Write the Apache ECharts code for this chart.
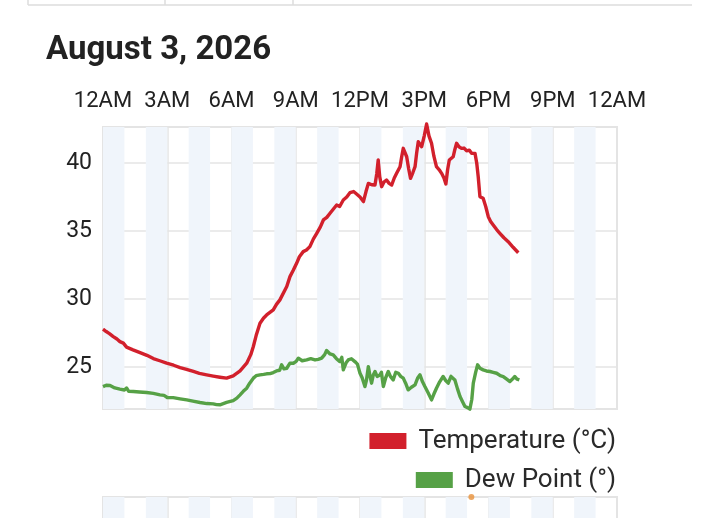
<!DOCTYPE html>
<html>
<head>
<meta charset="utf-8">
<script src="https://cdn.jsdelivr.net/npm/echarts/dist/echarts.min.js"></script>
<style>
html,body{margin:0;padding:0;background:#fff;overflow:hidden;}
#chart{width:719px;height:518px;}
</style>
</head>
<body>
<div id="chart"></div>
<script>
// ---- data ----
const titleText = 'August 3, 2026';
const xTickHours = [0, 3, 6, 9, 12, 15, 18, 21, 24];
const xTickLabels = ['12AM', '3AM', '6AM', '9AM', '12PM', '3PM', '6PM', '9PM', '12AM'];
const yTickValues = [25, 30, 35, 40];
const seriesNames = ['Temperature (°C)', 'Dew Point (°)'];

const tempHours = [0.00,0.15,0.30,0.48,0.65,0.79,0.95,1.10,1.40,1.73,2.05,2.35,2.65,2.97,3.30,3.60,3.90,4.22,4.50,4.84,5.15,5.46,5.77,6.08,6.40,6.71,6.90,7.02,7.15,7.33,7.50,7.64,7.95,8.10,8.26,8.58,8.73,8.89,9.04,9.17,9.35,9.50,9.66,9.82,9.98,10.15,10.29,10.45,10.60,10.75,10.91,11.05,11.22,11.38,11.53,11.70,11.84,12.00,12.16,12.28,12.39,12.55,12.70,12.78,12.85,12.92,13.01,13.12,13.24,13.36,13.48,13.60,13.71,13.87,13.95,14.02,14.18,14.27,14.36,14.47,14.57,14.65,14.72,14.88,15.00,15.11,15.22,15.34,15.45,15.57,15.70,15.81,15.92,16.01,16.09,16.17,16.35,16.43,16.51,16.62,16.74,16.85,16.98,17.10,17.21,17.37,17.45,17.52,17.60,17.75,17.87,17.99,18.10,18.22,18.38,18.53,18.72,18.92,19.15,19.39];
const tempValues = [27.77,27.60,27.45,27.23,27.05,26.86,26.75,26.45,26.25,26.05,25.85,25.61,25.45,25.27,25.12,24.95,24.82,24.66,24.52,24.41,24.32,24.24,24.17,24.34,24.71,25.27,25.90,26.50,27.30,28.21,28.60,28.82,29.19,29.60,29.93,30.91,31.64,32.13,32.62,33.10,33.48,33.60,33.85,34.40,34.83,35.30,35.81,36.00,36.30,36.60,36.91,36.80,37.28,37.50,37.82,37.90,37.72,37.50,37.16,37.90,38.50,38.40,38.38,39.20,40.22,39.00,38.26,38.60,38.75,38.50,38.38,38.90,39.24,39.73,40.50,41.08,40.46,39.60,38.87,39.30,39.73,40.80,41.57,41.20,42.00,42.87,42.00,41.45,40.50,39.73,39.50,39.24,38.90,38.46,39.50,40.22,40.46,41.00,41.45,41.20,41.08,41.10,40.90,40.95,40.71,40.71,40.00,38.99,37.52,37.40,36.80,36.05,35.70,35.44,35.10,34.83,34.50,34.21,33.80,33.40];

const dewHours = [0.00,0.15,0.33,0.55,0.79,1.00,1.10,1.20,1.42,1.70,2.04,2.35,2.66,2.85,3.00,3.28,3.60,3.91,4.20,4.53,4.85,5.15,5.30,5.46,5.77,6.08,6.25,6.40,6.55,6.71,6.85,7.02,7.15,7.33,7.50,7.64,7.80,7.95,8.10,8.25,8.34,8.45,8.58,8.73,8.89,9.02,9.12,9.30,9.51,9.70,9.90,10.05,10.21,10.35,10.44,10.60,10.75,10.90,11.06,11.15,11.22,11.35,11.45,11.60,11.76,11.88,12.00,12.10,12.23,12.30,12.39,12.47,12.54,12.62,12.70,12.80,12.93,13.00,13.09,13.20,13.32,13.42,13.55,13.67,13.79,13.90,14.02,14.13,14.25,14.40,14.57,14.70,14.80,14.92,15.03,15.18,15.34,15.45,15.57,15.72,15.88,16.00,16.12,16.25,16.43,16.55,16.67,16.80,16.90,17.02,17.13,17.22,17.29,17.40,17.49,17.60,17.75,17.90,18.07,18.22,18.38,18.55,18.69,18.85,19.00,19.12,19.23,19.33,19.44];
const dewValues = [23.55,23.65,23.63,23.45,23.36,23.30,23.45,23.20,23.19,23.15,23.11,23.05,22.94,22.90,22.75,22.74,22.65,22.57,22.48,22.38,22.30,22.28,22.22,22.21,22.38,22.52,22.70,22.94,23.20,23.43,23.80,24.17,24.35,24.41,24.45,24.49,24.50,24.58,24.70,24.75,25.15,24.85,24.90,25.27,25.27,25.40,25.64,25.45,25.51,25.60,25.51,25.55,25.64,25.90,26.20,25.95,25.88,25.60,25.39,25.70,24.78,25.30,25.51,25.60,25.39,25.20,24.53,24.20,23.55,24.00,25.02,24.30,23.80,24.40,24.66,24.30,24.41,24.60,23.55,24.20,24.66,24.30,24.04,24.60,24.53,24.30,24.17,23.80,23.31,23.50,23.68,24.20,24.41,23.90,23.55,23.10,22.57,23.00,23.43,23.90,24.29,24.00,23.80,24.30,24.04,23.40,22.82,22.40,22.08,22.00,21.89,22.60,23.80,24.60,25.15,24.90,24.78,24.70,24.66,24.60,24.53,24.35,24.29,24.10,23.92,24.10,24.29,24.10,24.04];

// next chart (partially visible) marker
const nextChartPoint = [[17.2, 10]];

// ---- build ----
const zip = (xs, ys) => xs.map((x, i) => [x, ys[i]]);
const labelFor = v => { const i = xTickHours.indexOf(v); return i >= 0 ? xTickLabels[i] : ''; };

const RED = '#d2202c';
const GREEN = '#56a146';
const BAND = '#f0f5fb';
const GRIDC = '#e4e4e4';
const FONT = 'Roboto';

const chart = echarts.init(document.getElementById('chart'), null, {renderer: 'canvas'});
chart.setOption({
  animation: false,
  backgroundColor: '#fff',
  title: {
    text: titleText, left: 46, top: 34, padding: 0,
    textStyle: {fontFamily: FONT, fontWeight: 'bold', fontSize: 33, color: '#222'}
  },
  graphic: [
    {type: 'line', shape: {x1: 28, y1: 5, x2: 692, y2: 5}, style: {stroke: '#dcdcdc', lineWidth: 1.5}},
    {type: 'line', shape: {x1: 28, y1: 0, x2: 28, y2: 5}, style: {stroke: '#dcdcdc', lineWidth: 1.5}},
    {type: 'line', shape: {x1: 165, y1: 0, x2: 165, y2: 5}, style: {stroke: '#dcdcdc', lineWidth: 1.5}},
    {type: 'line', shape: {x1: 293, y1: 0, x2: 293, y2: 5}, style: {stroke: '#dcdcdc', lineWidth: 1.5}}
  ],
  legend: [
    {data: [seriesNames[0]], right: 103, top: 428, padding: 0, icon: 'rect', itemWidth: 37, itemHeight: 16,
     selectedMode: false, textStyle: {fontFamily: FONT, fontSize: 26, color: '#2a2a2a', padding: [0,0,0,7]}},
    {data: [seriesNames[1]], right: 103, top: 467, padding: 0, icon: 'rect', itemWidth: 37, itemHeight: 16,
     selectedMode: false, textStyle: {fontFamily: FONT, fontSize: 26, color: '#2a2a2a', padding: [0,0,0,7]}}
  ],
  grid: [
    {left: 103, right: 102, top: 127, bottom: 109, show: true, borderColor: GRIDC, borderWidth: 2,
     containLabel: false, outerBoundsMode: 'none'},
    {left: 103, right: 102, top: 497, height: 100, show: true, borderColor: GRIDC, borderWidth: 2,
     containLabel: false, outerBoundsMode: 'none'}
  ],
  xAxis: [
    {type: 'value', gridIndex: 0, position: 'top', min: 0, max: 24, interval: 3,
     axisLine: {show: false}, axisTick: {show: false},
     axisLabel: {formatter: labelFor, fontFamily: FONT, fontSize: 22, color: '#222', margin: 15, showMinLabel: true, showMaxLabel: true},
     splitLine: {show: true, lineStyle: {color: GRIDC, width: 1.5}}},
    {type: 'value', gridIndex: 0, position: 'bottom', min: 0, max: 24, interval: 1,
     axisLine: {show: false}, axisTick: {show: false}, axisLabel: {show: false},
     splitLine: {show: false}, splitArea: {show: true, areaStyle: {color: [BAND, 'rgba(255,255,255,0)']}}},
    {type: 'value', gridIndex: 1, position: 'top', min: 0, max: 24, interval: 3,
     axisLine: {show: false}, axisTick: {show: false}, axisLabel: {show: false},
     splitLine: {show: true, lineStyle: {color: GRIDC, width: 1.5}}},
    {type: 'value', gridIndex: 1, position: 'bottom', min: 0, max: 24, interval: 1,
     axisLine: {show: false}, axisTick: {show: false}, axisLabel: {show: false},
     splitLine: {show: false}, splitArea: {show: true, areaStyle: {color: [BAND, 'rgba(255,255,255,0)']}}}
  ],
  yAxis: [
    {type: 'value', gridIndex: 0, min: 21.9, max: 42.65,
     axisLine: {show: false}, axisTick: {show: false, customValues: yTickValues},
     axisLabel: {customValues: yTickValues, fontFamily: FONT, fontSize: 23, color: '#222', margin: 11},
     splitLine: {show: true, lineStyle: {color: GRIDC, width: 1.5}}},
    {type: 'value', gridIndex: 1, min: 0, max: 10,
     axisLine: {show: false}, axisTick: {show: false}, axisLabel: {show: false}, splitLine: {show: false}}
  ],
  series: [
    {name: seriesNames[0], type: 'line', xAxisIndex: 0, yAxisIndex: 0, data: zip(tempHours, tempValues),
     showSymbol: false, symbol: 'none', clip: false, color: RED,
     lineStyle: {color: RED, width: 3.4, join: 'round'}},
    {name: seriesNames[1], type: 'line', xAxisIndex: 0, yAxisIndex: 0, data: zip(dewHours, dewValues),
     showSymbol: false, symbol: 'none', clip: false, color: GREEN,
     lineStyle: {color: GREEN, width: 3.4, join: 'round'}},
    {type: 'scatter', xAxisIndex: 2, yAxisIndex: 1, data: nextChartPoint, symbolSize: 6,
     clip: false, itemStyle: {color: '#e8913a'}, silent: true}
  ]
});
</script>
</body>
</html>
